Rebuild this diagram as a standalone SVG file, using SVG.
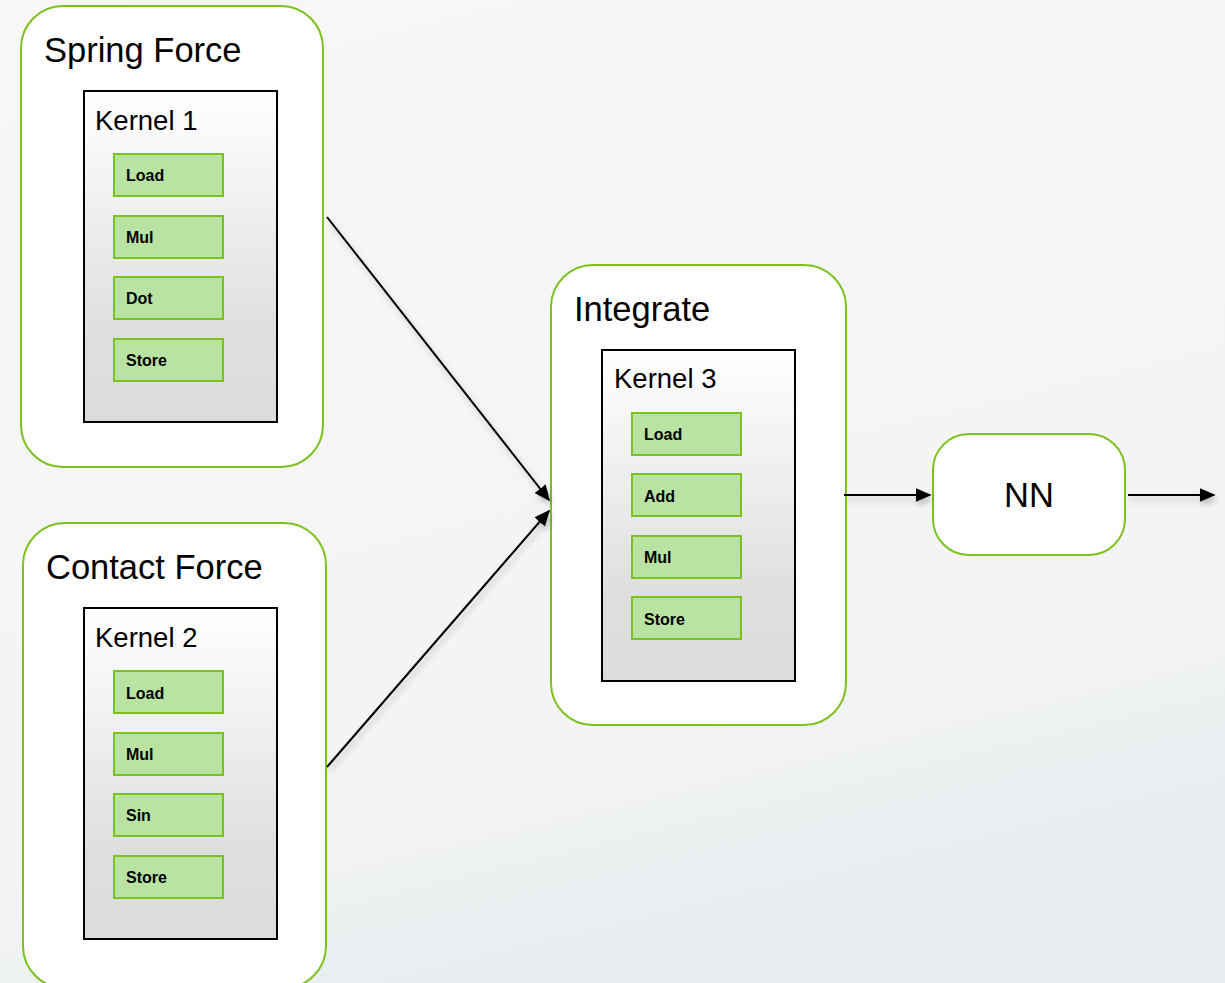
<svg xmlns="http://www.w3.org/2000/svg" width="1225" height="983" viewBox="0 0 1225 983">
<defs>
<linearGradient id="bg" x1="0" y1="0" x2="0.3" y2="1">
<stop offset="0" stop-color="#f7f7f7"/>
<stop offset="0.82" stop-color="#f4f4f4"/>
<stop offset="1" stop-color="#e8eef0"/>
</linearGradient>
<linearGradient id="kg" x1="0" y1="0" x2="0" y2="1">
<stop offset="0" stop-color="#ffffff"/>
<stop offset="0.75" stop-color="#dedede"/>
<stop offset="1" stop-color="#dcdcdc"/>
</linearGradient>
<marker id="ah" viewBox="0 0 10 10" refX="9" refY="5" markerWidth="16" markerHeight="14" markerUnits="userSpaceOnUse" orient="auto" preserveAspectRatio="none">
<path d="M0,0 L10,5 L0,10 z" fill="#000"/>
</marker>
<filter id="sh" x="-20%" y="-20%" width="140%" height="140%">
<feGaussianBlur in="SourceAlpha" stdDeviation="3"/>
<feOffset dx="2" dy="4" result="b"/>
<feComponentTransfer><feFuncA type="linear" slope="0.25"/></feComponentTransfer>
<feMerge><feMergeNode/><feMergeNode in="SourceGraphic"/></feMerge>
</filter>
</defs>
<style>
.outer{fill:#fff;stroke:#7cc21e;stroke-width:2}
.kern{fill:url(#kg);stroke:#000;stroke-width:2}
.op{fill:#b9e3a3;stroke:#7cc21e;stroke-width:2}
.title{font-family:"Liberation Sans",Arial,sans-serif;font-size:34.5px;fill:#000}
.ktitle{font-family:"Liberation Sans",Arial,sans-serif;font-size:27.5px;fill:#000}
.optext{font-family:"Liberation Sans",Arial,sans-serif;font-size:16px;font-weight:bold;fill:#000}
.conn{stroke:#000;stroke-width:2;fill:none;marker-end:url(#ah)}
</style>
<rect width="1225" height="983" fill="url(#bg)"/>

<g id="spring-force">
<rect class="outer" x="21" y="6" width="302" height="461" rx="42"/>
<text class="title" x="44" y="62">Spring Force</text>
<rect class="kern" x="84" y="91" width="193" height="331"/>
<text class="ktitle" x="95" y="130">Kernel 1</text>
<rect class="op" x="114" y="154" width="109" height="42"/>
<text class="optext" x="126" y="181">Load</text>
<rect class="op" x="114" y="216" width="109" height="42"/>
<text class="optext" x="126" y="243">Mul</text>
<rect class="op" x="114" y="277" width="109" height="42"/>
<text class="optext" x="126" y="304">Dot</text>
<rect class="op" x="114" y="339" width="109" height="42"/>
<text class="optext" x="126" y="366">Store</text>
</g>

<g id="contact-force">
<rect class="outer" x="23" y="523" width="303" height="465" rx="42"/>
<text class="title" x="46" y="579">Contact Force</text>
<rect class="kern" x="84" y="608" width="193" height="331"/>
<text class="ktitle" x="95" y="647">Kernel 2</text>
<rect class="op" x="114" y="671" width="109" height="42"/>
<text class="optext" x="126" y="699">Load</text>
<rect class="op" x="114" y="733" width="109" height="42"/>
<text class="optext" x="126" y="760">Mul</text>
<rect class="op" x="114" y="794" width="109" height="42"/>
<text class="optext" x="126" y="821">Sin</text>
<rect class="op" x="114" y="856" width="109" height="42"/>
<text class="optext" x="126" y="883">Store</text>
</g>

<g id="integrate">
<rect class="outer" x="551" y="265" width="295" height="460" rx="42"/>
<text class="title" x="574" y="321">Integrate</text>
<rect class="kern" x="602" y="350" width="193" height="331"/>
<text class="ktitle" x="614" y="388">Kernel 3</text>
<rect class="op" x="632" y="413" width="109" height="42"/>
<text class="optext" x="644" y="440">Load</text>
<rect class="op" x="632" y="474" width="109" height="42"/>
<text class="optext" x="644" y="502">Add</text>
<rect class="op" x="632" y="536" width="109" height="42"/>
<text class="optext" x="644" y="563">Mul</text>
<rect class="op" x="632" y="597" width="109" height="42"/>
<text class="optext" x="644" y="625">Store</text>
</g>

<g id="nn">
<rect class="outer" x="933" y="434" width="192" height="121" rx="36"/>
<text class="title" x="1029" y="507" text-anchor="middle">NN</text>
</g>

<g id="connectors" filter="url(#sh)">
<line class="conn" x1="327" y1="217" x2="549" y2="500"/>
<line class="conn" x1="327" y1="767" x2="549" y2="511"/>
<line class="conn" x1="844" y1="495" x2="930" y2="495"/>
<line class="conn" x1="1128" y1="495" x2="1214" y2="495"/>
</g>
</svg>
